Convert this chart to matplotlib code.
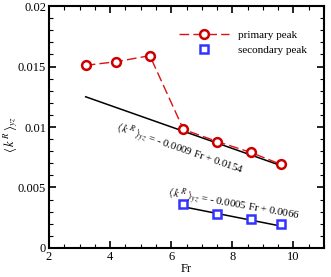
import numpy as np
import matplotlib.pyplot as plt
from matplotlib.ticker import MultipleLocator

plt.rcParams['font.family'] = ['Liberation Serif', 'DejaVu Serif']
plt.rcParams['mathtext.fontset'] = 'stix'

# primary peak
fr_primary = [3.2, 4.2, 5.3, 6.4, 7.5, 8.6, 9.6]
k_primary = [0.0151, 0.0154, 0.0159, 0.0098, 0.0088, 0.0079, 0.0069]

# secondary peak
fr_secondary = [6.4, 7.5, 8.6, 9.6]
k_secondary = [0.0036, 0.0028, 0.0024, 0.0020]

# fitted lines (end points)
fit1_fr = [3.2, 9.6]
fit1_k = [0.0125, 0.0068]
fit2_fr = [6.4, 9.6]
fit2_k = [0.0034, 0.0018]

fig = plt.figure(figsize=(3.31, 2.77), dpi=100)
ax = fig.add_axes([0.148, 0.105, 0.831, 0.873])

ax.plot(fit1_fr, fit1_k, color='black', lw=1.1)
ax.plot(fit2_fr, fit2_k, color='black', lw=1.1)
ax.plot(fr_primary, k_primary, color='#dd1111', ls=(0, (7, 3)), lw=1.0,
        marker='o', ms=6.3, mfc='white', mec='#cc0000', mew=1.8,
        label='primary peak')
ax.plot(fr_secondary, k_secondary, ls='none', marker='s', ms=5.5,
        mfc='white', mec='#3333ff', mew=1.8, label='secondary peak')

ax.text(4.3, 0.0107, r'$\langle\,k^{\,R}\,\rangle_{yz}$ = - 0.0009 Fr + 0.0154',
        rotation=-19, fontsize=7.8, ha='left', va='top', rotation_mode='anchor')
ax.text(5.95, 0.0053, r'$\langle\,k^{\,R}\,\rangle_{yz}$ = - 0.0005 Fr + 0.0066',
        rotation=-10, fontsize=7.8, ha='left', va='top', rotation_mode='anchor')

ax.set_xlim(2, 11)
ax.set_ylim(0, 0.02)
ax.xaxis.set_major_locator(MultipleLocator(2))
ax.xaxis.set_minor_locator(MultipleLocator(0.5))
ax.yaxis.set_minor_locator(MultipleLocator(0.001))
ax.set_yticks([0, 0.005, 0.01, 0.015, 0.02])
ax.set_yticklabels(['0', '0.005', '0.01', '0.015', '0.02'])
ax.tick_params(which='both', direction='in', top=True, right=True, labelsize=9, pad=2)
ax.tick_params(which='major', length=5, width=1.2)
ax.tick_params(which='minor', length=3, width=0.8)
for s in ax.spines.values():
    s.set_linewidth(1.5)

ax.set_xlabel('Fr', fontsize=9, labelpad=0)
ax.set_ylabel(r'$\langle\,k^{\,R}\,\rangle_{yz}$', fontsize=9)
ax.yaxis.set_label_coords(-0.105, 0.47)

ax.legend(loc='upper right', bbox_to_anchor=(0.975, 0.94), frameon=False,
          fontsize=8, handlelength=4.5, labelspacing=0.4)

plt.savefig('out.png', dpi=100)
